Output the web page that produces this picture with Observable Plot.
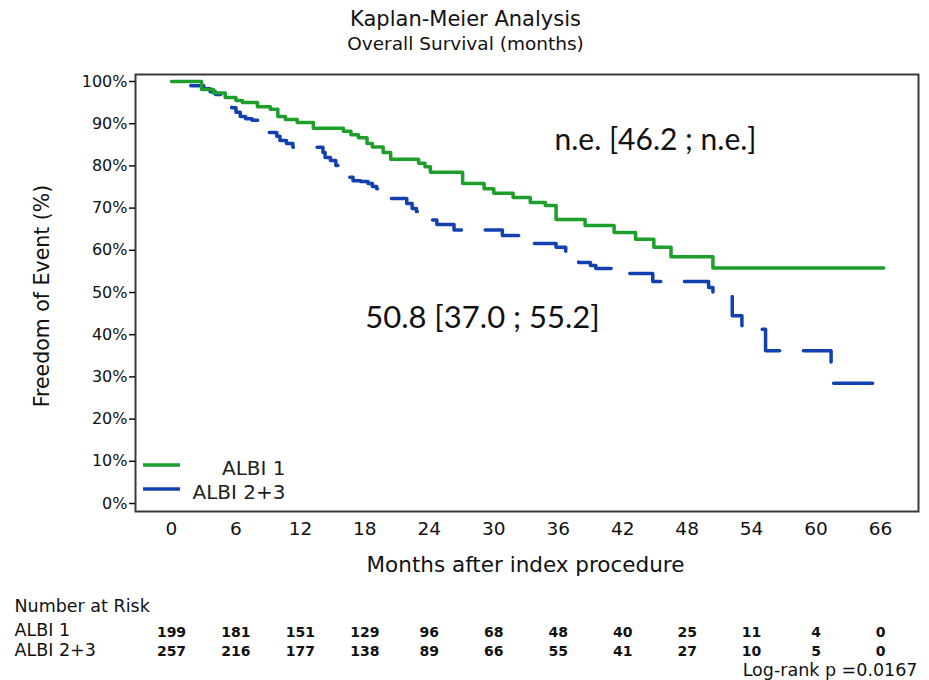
<!DOCTYPE html>
<html>
<head>
<meta charset="utf-8">
<script src="https://cdn.jsdelivr.net/npm/d3@7"></script>
<script src="https://cdn.jsdelivr.net/npm/@observablehq/plot@0.6"></script>
<style>
  html, body { margin: 0; padding: 0; background: #fff; }
  #chart svg { display: block; }
</style>
</head>
<body>
<div id="chart"></div>
<script>
// ---------- data ----------
const albi1Months = [0, 2.8, 3.9, 5.0, 6.0, 6.6, 8.0, 9.2, 9.9, 10.6, 11.7, 13.2, 16.0, 16.7, 17.4, 18.2, 18.7, 19.7, 20.4, 23.0, 23.6, 24.1, 27.1, 29.1, 30.0, 31.8, 33.4, 34.8, 35.8, 38.5, 41.2, 43.2, 44.9, 46.5, 50.4, 66.3];
const albi1Surv   = [100, 98.1, 97.3, 96.2, 95.5, 95.0, 94.0, 93.4, 91.7, 91.0, 90.3, 88.9, 88.2, 87.4, 86.7, 85.3, 84.5, 83.2, 81.6, 80.6, 79.8, 78.5, 75.8, 74.6, 73.5, 72.5, 71.3, 70.6, 67.3, 65.9, 64.2, 62.6, 60.7, 58.5, 55.8, 55.8];

const albi23Months = [0, 1.8, 3.0, 3.6, 4.1, 4.6, 5.2, 5.6, 6.0, 6.4, 6.9, 7.5, 8.1, 8.5, 9.1, 9.8, 10.1, 10.7, 11.3, 14.1, 14.3, 14.8, 15.3, 15.7, 16.3, 16.9, 17.6, 18.3, 18.7, 19.1, 19.6, 20.0, 21.9, 22.4, 22.8, 23.4, 24.1, 24.7, 26.3, 30.8, 33.1, 35.8, 36.7, 37.3, 37.9, 39.0, 39.5, 42.3, 44.8, 50.0, 50.4, 52.2, 53.1, 55.3, 61.4, 65.6];
const albi23Surv   = [100, 99.0, 98.3, 97.6, 96.9, 96.2, 95.0, 93.8, 92.7, 91.7, 91.2, 90.8, 90.3, 89.0, 87.9, 87.0, 86.0, 85.3, 84.4, 83.2, 82.0, 81.3, 80.1, 78.8, 77.3, 76.5, 76.3, 75.8, 75.1, 74.6, 73.5, 72.3, 71.1, 69.9, 69.2, 68.0, 67.2, 66.1, 64.8, 63.5, 61.6, 60.7, 59.5, 58.3, 57.1, 56.4, 55.7, 54.5, 52.6, 51.2, 50.0, 44.5, 41.3, 36.2, 28.5, 28.5];

const xTicks = [0, 6, 12, 18, 24, 30, 36, 42, 48, 54, 60, 66];
const yTicks = [0, 10, 20, 30, 40, 50, 60, 70, 80, 90, 100];

const riskMonths = [0, 6, 12, 18, 24, 30, 36, 42, 48, 54, 60, 66];
const albi1Risk  = [199, 181, 151, 129, 96, 68, 48, 40, 25, 11, 4, 0];
const albi23Risk = [257, 216, 177, 138, 89, 66, 55, 41, 27, 10, 5, 0];

const seriesNames = ["ALBI 1", "ALBI 2+3"];
const seriesColors = ["#1e9e2b", "#1340b0"];
const medianLabels = ["n.e. [46.2 ; n.e.]", "50.8 [37.0 ; 55.2]"];

// ---------- build tables ----------
const albi1 = albi1Months.map((m, i) => ({month: m, surv: albi1Surv[i]}));
const albi23 = albi23Months.map((m, i) => ({month: m, surv: albi23Surv[i]}));
const risk1 = riskMonths.map((m, i) => ({month: m, n: albi1Risk[i]}));
const risk23 = riskMonths.map((m, i) => ({month: m, n: albi23Risk[i]}));

const W = 929, H = 680;
const mL = 135, mR = 11, mT = 74, mB = 169;
const frameBottom = H - mB; // 511

const F = "DejaVu Sans";
const T = (s, o) => Plot.text([s], {text: d => d, lineAnchor: "middle", fill: "#111", ...o});

const plot = Plot.plot({
  width: W, height: H,
  marginLeft: mL, marginRight: mR, marginTop: mT, marginBottom: mB,
  x: {domain: [0, 66], range: [171, 880], label: null},
  y: {domain: [0, 100], range: [503, 81], label: null},
  style: {fontFamily: F, background: "white", color: "#111"},
  marks: [
    Plot.frame({stroke: "#3a3a3a", strokeWidth: 2}),
    Plot.axisY({ticks: yTicks, tickFormat: d => d + "%", tickSize: 6, tickPadding: 2, fontSize: 16, strokeWidth: 1.5, label: null}),
    Plot.axisX({ticks: xTicks, tickSize: 0, tickPadding: 10, fontSize: 18.5, label: null}),
    // curves
    Plot.line(albi23, {x: "month", y: "surv", curve: "step-after", stroke: seriesColors[1], strokeWidth: 3.5, strokeDasharray: "39,23.7", strokeDashoffset: 39.4}),
    Plot.line(albi1, {x: "month", y: "surv", curve: "step-after", stroke: seriesColors[0], strokeWidth: 3.5}),
    // titles
    T("Kaplan-Meier Analysis", {frameAnchor: "top-left", dx: 465 - mL, dy: 19 - mT, fontSize: 21, textAnchor: "middle"}),
    T("Overall Survival (months)", {frameAnchor: "top-left", dx: 465 - mL, dy: 44 - mT, fontSize: 18.5, textAnchor: "middle"}),
    // axis labels
    T("Months after index procedure", {frameAnchor: "bottom-left", dx: 525 - mL, dy: 565 - frameBottom, fontSize: 21.5, textAnchor: "middle"}),
    T("Freedom of Event (%)", {frameAnchor: "left", dx: 42 - mL, dy: 3, rotate: -90, fontSize: 20.5, textAnchor: "middle"}),
    // median annotations
    T(medianLabels[0], {frameAnchor: "top-left", dx: 655 - mL, dy: 140 - mT, fontSize: 30, fontFamily: "Lato", textAnchor: "middle"}),
    T(medianLabels[1], {frameAnchor: "top-left", dx: 482 - mL, dy: 318 - mT, fontSize: 31, fontFamily: "Lato", textAnchor: "middle"}),
    // legend text
    T(seriesNames[0], {frameAnchor: "top-left", dx: 285 - mL, dy: 468 - mT, fontSize: 20, textAnchor: "end", fill: "#222"}),
    T(seriesNames[1], {frameAnchor: "top-left", dx: 285 - mL, dy: 492 - mT, fontSize: 20, textAnchor: "end", fill: "#222"}),
    // number at risk table
    T("Number at Risk", {frameAnchor: "bottom-left", dx: 14 - mL, dy: 606 - frameBottom, fontSize: 17.5, textAnchor: "start"}),
    T(seriesNames[0], {frameAnchor: "bottom-left", dx: 14 - mL, dy: 630 - frameBottom, fontSize: 17.5, textAnchor: "start"}),
    T(seriesNames[1], {frameAnchor: "bottom-left", dx: 14 - mL, dy: 650 - frameBottom, fontSize: 17.5, textAnchor: "start"}),
    Plot.text(risk1, {x: "month", text: "n", frameAnchor: "bottom", lineAnchor: "middle", dy: 632 - frameBottom, fontSize: 14, fontWeight: "bold", fill: "#111"}),
    Plot.text(risk23, {x: "month", text: "n", frameAnchor: "bottom", lineAnchor: "middle", dy: 651 - frameBottom, fontSize: 14, fontWeight: "bold", fill: "#111"}),
    T("Log-rank p =0.0167", {frameAnchor: "bottom-right", dx: 917 - (W - mR), dy: 670 - frameBottom, fontSize: 17.5, textAnchor: "end"})
  ]
});

document.getElementById("chart").appendChild(plot);

// legend swatches (inside the frame, bottom-left)
const svg = d3.select(plot);
const sw = [{y: 465, c: seriesColors[0]}, {y: 489, c: seriesColors[1]}];
svg.append("g").selectAll("line").data(sw).join("line")
  .attr("x1", mL + 8).attr("x2", mL + 45)
  .attr("y1", d => d.y).attr("y2", d => d.y)
  .attr("stroke", d => d.c).attr("stroke-width", 3.5);
</script>
</body>
</html>
